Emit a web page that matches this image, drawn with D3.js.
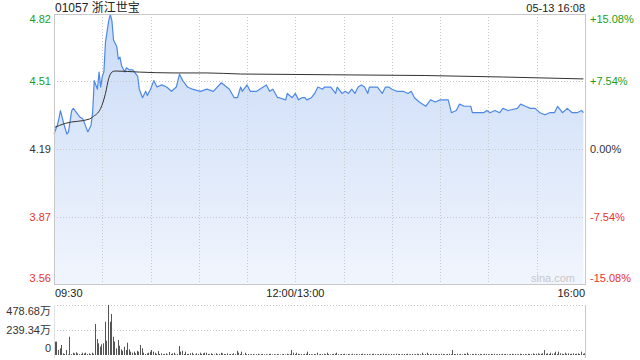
<!DOCTYPE html>
<html>
<head>
<meta charset="utf-8">
<script src="https://cdn.jsdelivr.net/npm/d3@7"></script>
<style>
body { margin: 0; background: #fff; }
svg { display: block; font-family: "Liberation Sans", Arial, "Noto Sans CJK SC", sans-serif; }
svg text { font-family: "Liberation Sans", Arial, "Noto Sans CJK SC", sans-serif; }
</style>
</head>
<body>
<svg id="svg" width="640" height="360"></svg>
<script>
"use strict";

const stockCode = "01057";
const stockName = "浙江世宝";
const stampText = "05-13 16:08";
const prevClose = 4.19;
const priceTicks = [4.82, 4.51, 4.19, 3.87, 3.56];
const pctTicks = ["+15.08%", "+7.54%", "0.00%", "-7.54%", "-15.08%"];
const timeTicks = ["09:30", "12:00/13:00", "16:00"];
const volTicks = [478.68, 239.34, 0];

const priceTimes = ["09:30","09:32","09:33","09:34","09:35","09:36","09:38","09:39","09:41","09:42",
    "09:44","09:46","09:48","09:50","09:51","09:53","09:54","09:55","09:57","09:58",
    "09:59","10:00","10:01","10:02","10:04","10:05","10:06","10:07","10:09","10:10",
    "10:11","10:12","10:14","10:15","10:17","10:19","10:22","10:23","10:25","10:27",
    "10:28","10:30","10:32","10:34","10:37","10:40","10:43","10:46","10:48","10:50",
    "10:53","10:56","11:01","11:05","11:09","11:14","11:19","11:22","11:24","11:26",
    "11:27","11:30","11:32","11:36","11:40","11:42","11:44","11:46","11:49","11:50",
    "11:54","11:55","11:58","13:00","13:02","13:04","13:06","13:07","13:10","13:12",
    "13:14","13:17","13:18","13:22","13:25","13:26","13:29","13:31","13:33","13:35",
    "13:37","13:39","13:41","13:43","13:45","13:46","13:49","13:51","13:54","13:56",
    "13:58","14:00","14:03","14:07","14:10","14:12","14:14","14:17","14:21","14:24",
    "14:27","14:30","14:33","14:35","14:37","14:40","14:42","14:45","14:49","14:50",
    "14:54","14:57","14:59","15:01","15:04","15:07","15:09","15:12","15:18","15:20",
    "15:23","15:26","15:29","15:32","15:35","15:38","15:41","15:43","15:46","15:49",
    "15:52","15:55","15:58","15:59"];
const prices = [4.26,4.30,4.33,4.37,4.34,4.31,4.26,4.27,4.37,4.38,
    4.36,4.34,4.33,4.29,4.27,4.30,4.36,4.51,4.47,4.55,
    4.48,4.53,4.55,4.69,4.79,4.82,4.79,4.70,4.67,4.61,
    4.62,4.58,4.55,4.57,4.56,4.56,4.53,4.47,4.43,4.46,
    4.44,4.47,4.51,4.48,4.49,4.48,4.46,4.48,4.54,4.51,
    4.48,4.47,4.46,4.47,4.46,4.50,4.47,4.43,4.43,4.48,
    4.46,4.49,4.46,4.46,4.48,4.49,4.46,4.47,4.43,4.43,
    4.42,4.45,4.43,4.45,4.42,4.43,4.43,4.42,4.43,4.45,
    4.48,4.47,4.48,4.48,4.45,4.48,4.45,4.46,4.45,4.47,
    4.45,4.48,4.49,4.48,4.45,4.48,4.48,4.48,4.45,4.48,
    4.48,4.47,4.46,4.46,4.45,4.46,4.43,4.41,4.39,4.42,
    4.41,4.42,4.42,4.42,4.36,4.37,4.40,4.39,4.39,4.36,
    4.36,4.36,4.37,4.36,4.37,4.36,4.38,4.37,4.38,4.40,
    4.39,4.38,4.38,4.36,4.35,4.36,4.36,4.39,4.36,4.38,
    4.36,4.36,4.37,4.36];

const avgTimes = ["09:30","09:37","09:52","09:54","09:59","10:02","10:04","10:06","10:08","10:23",
    "10:44","11:05","11:26","14:20","15:59"];
const avgPrices = [4.29,4.31,4.33,4.34,4.38,4.45,4.52,4.55,4.555,4.55,
    4.546,4.546,4.541,4.534,4.518];

// 万股, one bar per trading minute from 09:30
const volumes = [128,128,48,64,96,16,10,48,6,175,
    8,22,16,26,16,8,10,22,16,22,
    10,16,8,22,12,297,153,112,80,102,
    112,319,137,479,319,393,175,128,64,144,
    89,54,41,80,48,118,54,32,22,32,
    16,41,32,96,64,22,10,16,22,32,
    48,32,22,12,38,10,16,8,10,16,
    6,29,10,16,22,6,10,86,32,41,
    10,32,10,10,16,22,8,6,16,10,
    22,10,16,22,22,10,8,16,10,6,
    16,8,10,22,16,10,8,16,6,10,
    8,16,8,41,22,10,32,6,22,8,
    10,6,8,10,5,8,12,6,8,10,
    6,8,5,10,12,6,8,6,10,8,
    5,8,10,6,12,8,10,48,22,10,
    22,12,8,10,6,10,12,32,10,8,
    6,10,8,22,6,10,8,12,8,22,
    10,6,8,10,12,22,8,6,10,8,
    12,6,10,8,6,12,8,10,6,8,
    10,12,8,6,10,8,6,10,12,8,
    6,8,10,6,12,8,10,8,6,10,
    8,6,12,8,10,6,8,10,8,12,
    6,8,10,6,8,12,10,8,22,6,
    10,22,8,10,6,12,8,10,6,8,
    12,10,8,6,10,12,8,48,10,8,
    12,6,10,8,12,10,22,8,6,10,
    8,12,6,8,10,8,6,12,10,8,
    6,10,8,12,6,8,10,6,12,8,
    10,8,6,10,12,8,10,6,8,12,
    10,8,10,6,12,10,8,16,10,12,
    16,10,12,16,48,12,16,10,22,12,
    16,32,10,32,16,12,10,22,12,16,
    10,12,16,10,12,16,10,32,12,16];

const plotLeft = 54, plotRight = 585, plotTop = 14, plotBottom = 284;
const volTop = 305, volBottom = 355;
const upColor = "#1a9e1a", downColor = "#e8332e", textColor = "#333";
const fontStack = "\"Liberation Sans\", Arial, \"Noto Sans CJK SC\", sans-serif";

function minuteOf(t)
{
    var parts = t.split(":").map(Number);
    var m = parts[0] * 60 + parts[1];
    return m <= 720 ? m - 570 : m - 780 + 150;
}

var svg = d3.select("svg");
var range = prevClose * 0.1508;

var x = d3.scaleLinear().domain([0, 330]).range([plotLeft, plotRight]);
var y = d3.scaleLinear().domain([prevClose - range, prevClose + range]).range([plotBottom, plotTop]);
var yv = d3.scaleLinear().domain([0, volTicks[0]]).range([volBottom, volTop]);

var defs = svg.append("defs");
var grad = defs.append("linearGradient")
    .attr("id", "fill")
    .attr("gradientUnits", "userSpaceOnUse")
    .attr("x1", 0).attr("x2", 0)
    .attr("y1", plotTop).attr("y2", plotBottom);
grad.append("stop").attr("offset", 0).attr("stop-color", "#c9dbf7");
grad.append("stop").attr("offset", 1).attr("stop-color", "#f1f5fd");

// header
svg.append("text")
    .attr("x", plotLeft + 1).attr("y", 12)
    .attr("font-size", 12).attr("fill", "#222")
    .text(stockCode + " " + stockName);
svg.append("text")
    .attr("x", plotRight).attr("y", 12)
    .attr("font-size", 11).attr("fill", "#222")
    .attr("text-anchor", "end")
    .text(stampText);

// price area (grid is drawn over it)
var pts = priceTimes.map((t, i) => ({ m: minuteOf(t), p: prices[i] }));
var avgPts = avgTimes.map((t, i) => ({ m: minuteOf(t), p: avgPrices[i] }));

svg.append("path")
    .datum(pts)
    .attr("fill", "url(#fill)")
    .attr("d", d3.area()
        .x(d => x(d.m))
        .y0(plotBottom)
        .y1(d => y(d.p)));

// grid
var grid = svg.append("g")
    .attr("stroke", "#c8c8c8")
    .attr("stroke-dasharray", "1,2")
    .attr("fill", "none");
grid.selectAll(".vgrid")
    .data(d3.range(30, 330, 30))
    .enter()
    .append("line")
        .attr("x1", d => Math.round(x(d)) + 0.5)
        .attr("x2", d => Math.round(x(d)) + 0.5)
        .attr("y1", plotTop).attr("y2", plotBottom);
grid.selectAll(".hgrid")
    .data(priceTicks.slice(1, 4))
    .enter()
    .append("line")
        .attr("x1", plotLeft).attr("x2", plotRight)
        .attr("y1", d => Math.round(y(d)) + 0.5)
        .attr("y2", d => Math.round(y(d)) + 0.5);
grid.selectAll(".vol-grid")
    .data(volTicks.slice(0, 2))
    .enter()
    .append("line")
        .attr("x1", plotLeft).attr("x2", plotRight)
        .attr("y1", d => Math.round(yv(d)) + 0.5)
        .attr("y2", d => Math.round(yv(d)) + 0.5);

svg.append("path")
    .datum(pts)
    .attr("fill", "none")
    .attr("stroke", "#4d88e6")
    .attr("stroke-width", 1.2)
    .attr("stroke-linejoin", "round")
    .attr("d", d3.line().x(d => x(d.m)).y(d => y(d.p)));

svg.append("path")
    .datum(avgPts)
    .attr("fill", "none")
    .attr("stroke", "#333")
    .attr("stroke-width", 1)
    .attr("d", d3.line().x(d => x(d.m)).y(d => y(d.p)).curve(d3.curveMonotoneX));

// frame
svg.append("rect")
    .attr("x", plotLeft + 0.5).attr("y", plotTop + 0.5)
    .attr("width", plotRight - plotLeft).attr("height", plotBottom - plotTop)
    .attr("fill", "none").attr("stroke", "#c8c8c8");
svg.append("line")
    .attr("x1", plotRight + 0.5).attr("x2", plotRight + 0.5)
    .attr("y1", volTop).attr("y2", volBottom + 3)
    .attr("stroke", "#c8c8c8");
svg.append("line")
    .attr("x1", plotLeft + 0.5).attr("x2", plotLeft + 0.5)
    .attr("y1", volTop).attr("y2", volBottom + 3)
    .attr("stroke", "#e0e0e0");

svg.append("text")
    .attr("x", plotRight - 10).attr("y", plotBottom - 2)
    .attr("font-size", 11).attr("fill", "#c8c8c8")
    .attr("text-anchor", "end")
    .text("sina.com");

// volume bars
svg.append("g")
    .attr("fill", "#555")
    .selectAll("rect")
    .data(volumes)
    .enter()
    .append("rect")
        .attr("x", (d, i) => Math.round(x(i + 0.5)))
        .attr("width", 1)
        .attr("y", d => yv(d))
        .attr("height", d => volBottom - yv(d));

// price axes
function tickColor(d)
{
    return d > prevClose ? upColor : d < prevClose ? downColor : textColor;
}
function edgeShift(i)
{
    return i == 0 ? 5 : i == priceTicks.length - 1 ? -6 : 0;
}

var leftAxis = svg.append("g")
    .attr("transform", "translate(" + (plotLeft - 3) + ",0)")
    .call(d3.axisLeft(y).tickValues(priceTicks).tickSize(0).tickPadding(0).tickFormat(d3.format(".2f")));
leftAxis.attr("font-family", fontStack).attr("font-size", 11);
leftAxis.select(".domain").remove();
leftAxis.selectAll("text")
    .attr("fill", d => tickColor(d))
    .attr("transform", (d, i) => "translate(0," + edgeShift(i) + ")");

var rightAxis = svg.append("g")
    .attr("transform", "translate(" + (plotRight + 5) + ",0)")
    .call(d3.axisRight(y).tickValues(priceTicks).tickSize(0).tickPadding(0)
        .tickFormat((d, i) => pctTicks[i]));
rightAxis.attr("font-family", fontStack).attr("font-size", 11);
rightAxis.select(".domain").remove();
rightAxis.selectAll("text")
    .attr("fill", d => tickColor(d))
    .attr("transform", (d, i) => "translate(0," + edgeShift(i) + ")");

// time labels
var timePos = [0, 150, 330];
var timeAnchor = ["start", "middle", "end"];
svg.append("g")
    .selectAll("text")
    .data(timeTicks)
    .enter()
    .append("text")
        .attr("x", (d, i) => x(timePos[i]) + (i == 0 ? 1 : 0))
        .attr("y", 297)
        .attr("font-size", 11)
        .attr("fill", "#222")
        .attr("text-anchor", (d, i) => timeAnchor[i])
        .text(d => d);

// volume labels
var volAxis = svg.append("g")
    .attr("transform", "translate(" + (plotLeft - 3) + ",0)")
    .call(d3.axisLeft(yv).tickValues(volTicks).tickSize(0).tickPadding(0)
        .tickFormat(d => d == 0 ? "0" : d3.format(".2f")(d) + "万"));
volAxis.attr("font-family", fontStack).attr("font-size", 11);
volAxis.select(".domain").remove();
volAxis.selectAll("text")
    .attr("fill", "#333")
    .attr("transform", (d, i) => "translate(0," + (i == 0 ? 6 : i == 2 ? -7 : 0) + ")");
</script>
</body>
</html>
